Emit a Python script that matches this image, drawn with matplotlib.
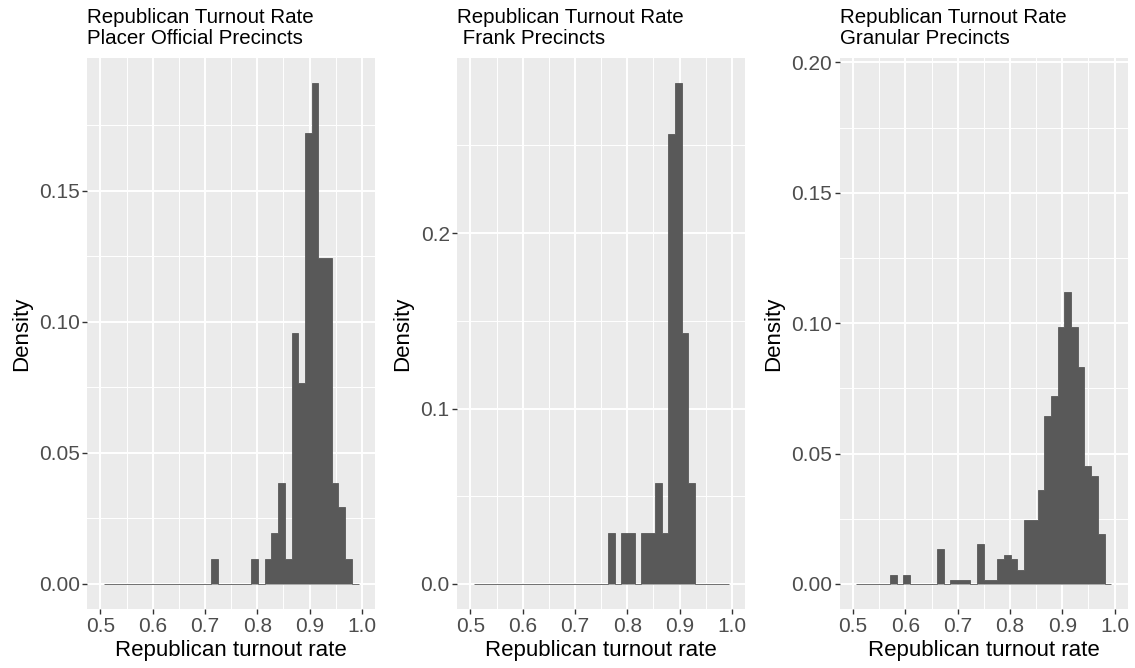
import numpy as np
import matplotlib
matplotlib.use("Agg")
import matplotlib.pyplot as plt
from matplotlib.ticker import FormatStrFormatter

# ==============================
# Data (bar heights)
# ==============================
# histogram: 40 bins over [0.5, 1.0], outer two bins dropped by the x limits
x_limits = (0.5, 1.0)
n_bins = 40

placer_heights = [0, 0, 0, 0, 0, 0, 0, 0, 0, 0,
                  0, 0, 0, 0, 0, 0, 0.0095, 0, 0, 0,
                  0, 0, 0.0095, 0, 0.0095, 0.0196, 0.0387, 0.0095, 0.0959, 0.0768,
                  0.172, 0.191, 0.1245, 0.1245, 0.0387, 0.0292, 0.0095, 0]

frank_heights = [0, 0, 0, 0, 0, 0, 0, 0, 0, 0,
                 0, 0, 0, 0, 0, 0, 0, 0, 0, 0,
                 0.0293, 0, 0.0293, 0.0293, 0, 0.0293, 0.0293, 0.0577, 0.0293, 0.2567,
                 0.2854, 0.143, 0.0577, 0, 0, 0, 0, 0]

granular_heights = [0, 0, 0, 0, 0, 0.0036, 0, 0.0036, 0, 0,
                    0, 0, 0.0133, 0, 0.0017, 0.0017, 0.0017, 0, 0.0152, 0.0017,
                    0.0017, 0.0094, 0.0113, 0.0094, 0.0055, 0.0245, 0.0245, 0.0362, 0.0643, 0.072,
                    0.0986, 0.1119, 0.0986, 0.0832, 0.0454, 0.0415, 0.0191, 0]

titles = ["Republican Turnout Rate\nPlacer Official Precincts",
          "Republican Turnout Rate\n Frank Precincts",
          "Republican Turnout Rate\nGranular Precincts"]

y_tops = [max(placer_heights), max(frank_heights), 0.192]
y_majors = [[0, 0.05, 0.10, 0.15], [0, 0.1, 0.2], [0, 0.05, 0.10, 0.15, 0.20]]
y_minors = [[0.025, 0.075, 0.125, 0.175], [0.05, 0.15, 0.25], [0.025, 0.075, 0.125, 0.175]]
y_formats = ["%.2f", "%.1f", "%.2f"]
x_majors = [0.5, 0.6, 0.7, 0.8, 0.9, 1.0]
x_minors = [0.55, 0.65, 0.75, 0.85, 0.95]

# bin edges like ggplot's bins=40 on a 0.5-1.0 range (outer half-bins cut off)
width = (x_limits[1] - x_limits[0]) / (n_bins - 1)
edges = x_limits[0] + width * (np.arange(0, n_bins - 1) + 0.5)

# ==============================
# Plot
# ==============================
plt.rcParams['font.family'] = ['Liberation Sans', 'DejaVu Sans']

W, H = 1135, 668
fig = plt.figure(figsize=(W / 100, H / 100), dpi=100)

panel_left = [87.3, 457.3, 840.0]
panel_w = 287.7
panel_top, panel_bottom = 58.3, 609.0

all_heights = [placer_heights, frank_heights, granular_heights]

for i in range(3):
    ax = fig.add_axes([panel_left[i] / W, (H - panel_bottom) / H,
                       panel_w / W, (panel_bottom - panel_top) / H])
    ax.set_facecolor('#EBEBEB')
    for s in ax.spines.values():
        s.set_visible(False)

    xr = x_limits[1] - x_limits[0]
    ax.set_xlim(x_limits[0] - 0.05 * xr, x_limits[1] + 0.05 * xr)
    ax.set_ylim(-0.05 * y_tops[i], 1.05 * y_tops[i])

    ax.set_xticks(x_majors)
    ax.set_xticks(x_minors, minor=True)
    ax.set_yticks(y_majors[i])
    ax.set_yticks(y_minors[i], minor=True)
    ax.yaxis.set_major_formatter(FormatStrFormatter(y_formats[i]))
    ax.xaxis.set_major_formatter(FormatStrFormatter("%.1f"))

    ax.grid(which='major', color='white', linewidth=1.4)
    ax.grid(which='minor', color='white', linewidth=0.7)
    ax.set_axisbelow(True)

    ax.tick_params(which='major', length=3.5, width=1.0, color='#333333',
                   labelsize=15, labelcolor='#4D4D4D', pad=2)
    ax.tick_params(which='minor', length=0)

    # one filled outline per histogram, so zero-count bins show as a baseline
    ax.stairs(all_heights[i], edges, fill=True, facecolor='#595959',
              edgecolor='#595959', linewidth=0.6, zorder=2)

    ax.set_xlabel("Republican turnout rate", fontsize=16, labelpad=3)
    ax.set_ylabel("Density", fontsize=16, labelpad=5)
    ax.set_title(titles[i], loc='left', fontsize=14.8, pad=10, linespacing=1.15)

fig.savefig("out.png", dpi=100)
